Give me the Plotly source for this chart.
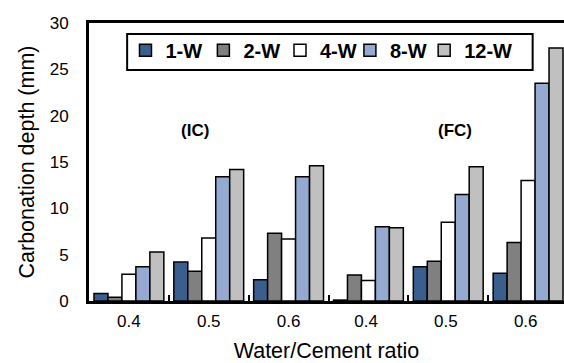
import plotly.graph_objects as go

# Water/cement ratio groups: indirect carbonation (IC) then field carbonation (FC).
# The FC labels carry a trailing space so the category axis keeps six distinct slots.
ratio_labels = ["0.4", "0.5", "0.6", "0.4 ", "0.5 ", "0.6 "]

series_names = ["1-W", "2-W", "4-W", "8-W", "12-W"]
depth_1w = [0.8, 4.2, 2.3, 0.1, 3.7, 3.0]
depth_2w = [0.4, 3.2, 7.3, 2.8, 4.3, 6.3]
depth_4w = [2.9, 6.8, 6.7, 2.2, 8.5, 13.0]
depth_8w = [3.7, 13.4, 13.4, 8.0, 11.5, 23.5]
depth_12w = [5.3, 14.2, 14.6, 7.9, 14.5, 27.3]

series_values = [depth_1w, depth_2w, depth_4w, depth_8w, depth_12w]
series_colors = ["#3A5F8F", "#808080", "#FFFFFF", "#95A9D1", "#C0C0C0"]

# each series gets its own single-entry legend so the entries can sit
# at fixed horizontal offsets inside one framed key
legend_ids = ["legend", "legend2", "legend3", "legend4", "legend5"]
legend_x = [0.0768, 0.2408, 0.4021, 0.5493, 0.7056]

font_family = "Liberation Sans, Arial, sans-serif"

fig = go.Figure()
for name, vals, color, lid in zip(series_names, series_values, series_colors, legend_ids):
    fig.add_trace(go.Bar(
        x=ratio_labels, y=vals, name=name, legend=lid,
        marker=dict(color=color, line=dict(color="black", width=1.5)),
    ))

legend_layout = {}
for lid, lx in zip(legend_ids, legend_x):
    legend_layout[lid] = dict(
        orientation="h", x=lx, y=0.972, xanchor="left", yanchor="top",
        borderwidth=0, bgcolor="rgba(0,0,0,0)",
        font=dict(size=20, family=font_family, weight="bold"),
    )

fig.update_layout(
    width=564, height=363,
    margin=dict(l=88.5, r=0, t=23, b=62),
    paper_bgcolor="white", plot_bgcolor="white",
    barmode="group", bargap=0.125, bargroupgap=0,
    font=dict(family=font_family, size=17, color="black"),
    showlegend=True,
    **legend_layout,
    # framed box behind the legend entries
    shapes=[
        dict(type="rect", xref="paper", yref="paper",
             x0=0.0803, x1=0.934, y0=0.831, y1=0.9604,
             line=dict(color="black", width=2), fillcolor="white",
             layer="above"),
    ],
    annotations=[
        dict(x=0.83, y=18.4, xref="x", yref="y", text="<b>(IC)</b>",
             showarrow=False, font=dict(size=17)),
        dict(x=4.09, y=18.4, xref="x", yref="y", text="<b>(FC)</b>",
             showarrow=False, font=dict(size=17)),
    ],
)

fig.update_xaxes(
    type="category", range=[-0.5, 5.45],
    showline=True, linecolor="black", linewidth=3, mirror=True,
    ticks="inside", tickson="boundaries", ticklen=6, tickwidth=2,
    tickcolor="black", showgrid=False, zeroline=False,
    tickfont=dict(size=17), ticklabelstandoff=3,
    title=dict(text="Water/Cement ratio", font=dict(size=21.5), standoff=15),
)
fig.update_yaxes(
    range=[0, 30], dtick=5,
    showline=True, linecolor="black", linewidth=3,
    ticks="", showgrid=False, zeroline=False,
    tickfont=dict(size=17), ticklabelstandoff=14,
    title=dict(text="Carbonation depth (mm)", font=dict(size=21.5), standoff=10),
)

fig.write_html("out.html")
